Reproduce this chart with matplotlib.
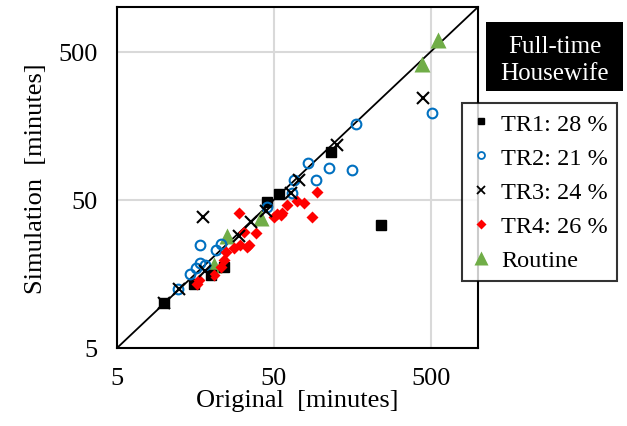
import matplotlib
matplotlib.use("Agg")
import matplotlib.pyplot as plt
from matplotlib.patches import Rectangle
from matplotlib.lines import Line2D

plt.rcParams['font.family'] = ['Liberation Serif', 'DejaVu Serif']

# data (original vs simulation, minutes)
tr1_x = [10, 15.5, 20, 24, 45, 54, 115, 242]
tr1_y = [10, 13.6, 15.5, 17.5, 48, 55, 105, 34]

tr2_x = [12.2, 14.5, 16.0, 17.0, 17.0, 18.3, 21.3, 23, 45, 65.5, 67, 82.4, 93.2, 112, 158, 168, 507]
tr2_y = [12.6, 15.8, 17.4, 18.6, 24.8, 18.2, 23.0, 25, 44.4, 55.5, 68.3, 88.6, 68.3, 81.9, 79.8, 163, 193]

tr3_x = [10, 12.4, 17.6, 18.2, 29.9, 35.5, 44.3, 63.9, 72.2, 127, 447]
tr3_y = [10, 12.5, 38, 16.5, 28.7, 35.3, 41.7, 55.5, 68.3, 118, 244]

tr4_x = [16.2, 16.6, 20.7, 22.9, 24.0, 24.6, 27.7, 29.9, 30.6, 32.2, 33.7, 34.5, 38.2,
         50, 52, 55.2, 56.6, 61, 70.4, 77.7, 87.9, 94.5]
tr4_y = [13.6, 14.3, 15.5, 17.7, 19.6, 22.3, 23.5, 40.6, 24.8, 30.5, 24.0, 24.8, 29.7,
         38.4, 40, 39.6, 40.5, 45.8, 48.8, 47.6, 38.4, 56.4]

rt_x = [20.7, 25.2, 41.1, 438, 560]
rt_y = [18.2, 28.7, 37.6, 415, 597]

labels = ['TR1: 28 %', 'TR2: 21 %', 'TR3: 24 %', 'TR4: 26 %', 'Routine']
ticks = [5, 50, 500]

fig = plt.figure(figsize=(6.27, 4.27), dpi=100)
ax = fig.add_axes([117/627, 1-349/427, 361/627, 341/427])

ax.plot([5, 1000], [5, 1000], color='black', lw=1.3, zorder=1)
ax.plot(rt_x, rt_y, ls='none', marker='^', ms=11, color='#70AD47', mec='none', zorder=3)
ax.plot(tr1_x, tr1_y, ls='none', marker='s', ms=7.5, color='black', zorder=4)
ax.plot(tr2_x, tr2_y, ls='none', marker='o', ms=7, mfc='none', mec='#0070C0', mew=1.5, zorder=4)
ax.plot(tr3_x, tr3_y, ls='none', marker='x', ms=8.5, color='black', mew=1.5, zorder=5)
ax.plot(tr4_x, tr4_y, ls='none', marker='D', ms=6.5, color='#FF0000', mec='none', zorder=4)

ax.set_xscale('log')
ax.set_yscale('log')
ax.set_xlim(5, 1000)
ax.set_ylim(5, 1000)
ax.set_xticks(ticks)
ax.set_yticks(ticks)
ax.set_xticklabels([str(t) for t in ticks])
ax.set_yticklabels([str(t) for t in ticks])
ax.minorticks_off()
ax.tick_params(length=0, labelsize=19, pad=14)
ax.grid(True, color='#D9D9D9', lw=1.5)
ax.set_axisbelow(True)
for s in ax.spines.values():
    s.set_linewidth(1.5)
ax.set_xlabel('Original  [minutes]', fontsize=19, labelpad=0)
ax.set_ylabel('Simulation  [minutes]', fontsize=19, labelpad=8)

handles = [
    Line2D([], [], ls='none', marker='s', ms=5, color='black'),
    Line2D([], [], ls='none', marker='o', ms=5, mfc='none', mec='#0070C0', mew=1.3),
    Line2D([], [], ls='none', marker='x', ms=6, color='black', mew=1.3),
    Line2D([], [], ls='none', marker='D', ms=5, color='#FF0000', mec='none'),
    Line2D([], [], ls='none', marker='^', ms=10, color='#70AD47', mec='none'),
]
leg = fig.legend(handles, labels, loc='upper left', bbox_to_anchor=(462/627, 1-104/427),
                 fontsize=17.5, frameon=True, fancybox=False, edgecolor='black',
                 labelspacing=0.5, handlelength=0.8, handletextpad=0.4, borderpad=0.4,
                 borderaxespad=0)
leg.get_frame().set_linewidth(1.5)

fig.patches.append(Rectangle((486/627, 1-92/427), 137/627, 69/427, transform=fig.transFigure,
                             facecolor='black', edgecolor='none'))
fig.text((486+623)/2/627, 1-60.5/427, 'Full-time\nHousewife', color='white', fontsize=18,
         ha='center', va='center', linespacing=1.35)

fig.savefig('out.png', dpi=100)
